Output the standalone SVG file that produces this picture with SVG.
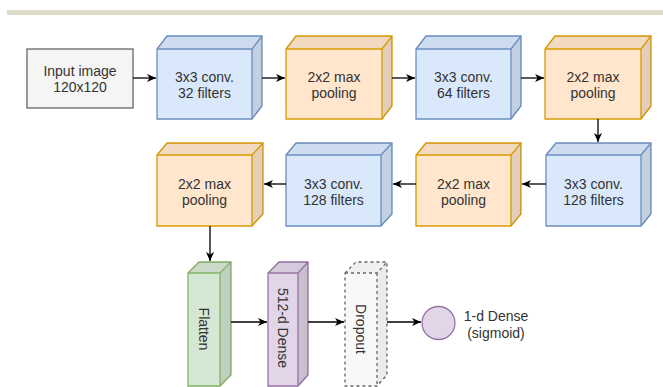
<svg xmlns="http://www.w3.org/2000/svg" width="663" height="387" viewBox="0 0 663 387">
<style>
text{font-family:"Liberation Sans",Arial,sans-serif;font-size:14px;fill:#333;text-anchor:middle}
.blue{fill:#dae8fc;stroke:#6c8ebf;stroke-width:1.3}
.orange{fill:#ffe6cc;stroke:#d79b00;stroke-width:1.3}
.green{fill:#d5e8d4;stroke:#82b366;stroke-width:1.3}
.purple{fill:#e1d5e7;stroke:#9673a6;stroke-width:1.3}
.drop{fill:#f8f8f8;stroke:#666;stroke-width:1.3;stroke-dasharray:3 3}
.top{fill:#000;fill-opacity:0.05;stroke:none}
.side{fill:#000;fill-opacity:0.1;stroke:none}
.conn path{fill:none;stroke:#000;stroke-width:1.3;marker-end:url(#arr)}
</style>
<defs>
<marker id="arr" markerUnits="userSpaceOnUse" markerWidth="10" markerHeight="9" refX="9" refY="4.5" orient="auto">
<path d="M0,0.5 L9,4.5 L0,8.5 L2.5,4.5 z" fill="#000"/>
</marker>
</defs>
<rect x="7" y="10" width="656" height="5" fill="#dfdcc9"/>

<g id="input">
<rect x="27" y="49" width="106" height="59" fill="#f5f5f5" stroke="#666" stroke-width="1.3"/>
<text x="80" y="76">Input image</text>
<text x="80" y="92">120x120</text>
</g>

<g id="conv1">
<path class="blue" d="M157,49 L167,36 L262,36 L262,106 L252,119 L157,119 Z"/>
<path class="top" d="M157,49 L167,36 L262,36 L252,49 Z"/>
<path class="side" d="M252,49 L262,36 L262,106 L252,119 Z"/>
<path class="blue" fill="none" style="fill:none" d="M157,49 L252,49 L262,36 M252,49 L252,119"/>
<text x="204.5" y="82">3x3 conv.</text>
<text x="204.5" y="98">32 filters</text>
</g>

<g id="pool1">
<path class="orange" d="M286,49 L296,36 L392,36 L392,106 L382,119 L286,119 Z"/>
<path class="top" d="M286,49 L296,36 L392,36 L382,49 Z"/>
<path class="side" d="M382,49 L392,36 L392,106 L382,119 Z"/>
<path class="orange" style="fill:none" d="M286,49 L382,49 L392,36 M382,49 L382,119"/>
<text x="334" y="82">2x2 max</text>
<text x="334" y="98">pooling</text>
</g>

<g id="conv2">
<path class="blue" d="M416,49 L426,36 L521,36 L521,106 L511,119 L416,119 Z"/>
<path class="top" d="M416,49 L426,36 L521,36 L511,49 Z"/>
<path class="side" d="M511,49 L521,36 L521,106 L511,119 Z"/>
<path class="blue" style="fill:none" d="M416,49 L511,49 L521,36 M511,49 L511,119"/>
<text x="463.5" y="82">3x3 conv.</text>
<text x="463.5" y="98">64 filters</text>
</g>

<g id="pool2">
<path class="orange" d="M545,49 L555,36 L651,36 L651,106 L641,119 L545,119 Z"/>
<path class="top" d="M545,49 L555,36 L651,36 L641,49 Z"/>
<path class="side" d="M641,49 L651,36 L651,106 L641,119 Z"/>
<path class="orange" style="fill:none" d="M545,49 L641,49 L651,36 M641,49 L641,119"/>
<text x="593" y="82">2x2 max</text>
<text x="593" y="98">pooling</text>
</g>

<g id="conv4">
<path class="blue" d="M546,155 L556,143 L651,143 L651,214 L641,226 L546,226 Z"/>
<path class="top" d="M546,155 L556,143 L651,143 L641,155 Z"/>
<path class="side" d="M641,155 L651,143 L651,214 L641,226 Z"/>
<path class="blue" style="fill:none" d="M546,155 L641,155 L651,143 M641,155 L641,226"/>
<text x="593.5" y="189">3x3 conv.</text>
<text x="593.5" y="205">128 filters</text>
</g>

<g id="pool4">
<path class="orange" d="M416,155 L426,143 L521,143 L521,214 L511,226 L416,226 Z"/>
<path class="top" d="M416,155 L426,143 L521,143 L511,155 Z"/>
<path class="side" d="M511,155 L521,143 L521,214 L511,226 Z"/>
<path class="orange" style="fill:none" d="M416,155 L511,155 L521,143 M511,155 L511,226"/>
<text x="463.5" y="189">2x2 max</text>
<text x="463.5" y="205">pooling</text>
</g>

<g id="conv3">
<path class="blue" d="M286,155 L296,143 L392,143 L392,214 L381,226 L286,226 Z"/>
<path class="top" d="M286,155 L296,143 L392,143 L381,155 Z"/>
<path class="side" d="M381,155 L392,143 L392,214 L381,226 Z"/>
<path class="blue" style="fill:none" d="M286,155 L381,155 L392,143 M381,155 L381,226"/>
<text x="333.5" y="189">3x3 conv.</text>
<text x="333.5" y="205">128 filters</text>
</g>

<g id="pool3">
<path class="orange" d="M157,155 L167,143 L263,143 L263,214 L252,226 L157,226 Z"/>
<path class="top" d="M157,155 L167,143 L263,143 L252,155 Z"/>
<path class="side" d="M252,155 L263,143 L263,214 L252,226 Z"/>
<path class="orange" style="fill:none" d="M157,155 L252,155 L263,143 M252,155 L252,226"/>
<text x="204.5" y="189">2x2 max</text>
<text x="204.5" y="205">pooling</text>
</g>

<g id="flatten">
<path class="green" d="M188,273 L199,262 L231,262 L231,375 L220,386 L188,386 Z"/>
<path class="top" d="M188,273 L199,262 L231,262 L220,273 Z"/>
<path class="side" d="M220,273 L231,262 L231,375 L220,386 Z"/>
<path class="green" style="fill:none" d="M188,273 L220,273 L231,262 M220,273 L220,386"/>
<text transform="translate(204,329) rotate(90)" dy="5">Flatten</text>
</g>

<g id="dense512">
<path class="purple" d="M268,273 L279,262 L308,262 L308,375 L298,386 L268,386 Z"/>
<path class="top" d="M268,273 L279,262 L308,262 L298,273 Z"/>
<path class="side" d="M298,273 L308,262 L308,375 L298,386 Z"/>
<path class="purple" style="fill:none" d="M268,273 L298,273 L308,262 M298,273 L298,386"/>
<text transform="translate(283,328) rotate(90)" dy="5">512-d Dense</text>
</g>

<g id="dropout">
<path class="drop" d="M345,273 L356,262 L387,262 L387,375 L377,386 L345,386 Z"/>
<path class="top" style="fill-opacity:0.03" d="M345,273 L356,262 L387,262 L377,273 Z"/>
<path class="side" style="fill-opacity:0.05" d="M377,273 L387,262 L387,375 L377,386 Z"/>
<path class="drop" style="fill:none" d="M345,273 L377,273 L387,262 M377,273 L377,386"/>
<text transform="translate(361,329) rotate(90)" dy="5">Dropout</text>
</g>

<g id="dense1">
<circle cx="438.5" cy="323" r="16.5" fill="#e1d5e7" stroke="#9673a6" stroke-width="1.3"/>
<text x="496" y="321">1-d Dense</text>
<text x="496" y="338">(sigmoid)</text>
</g>

<g class="conn" id="connectors">
<path d="M133,78 L156,78"/>
<path d="M262,78 L285,78"/>
<path d="M392,78 L415,78"/>
<path d="M521,78 L544,78"/>
<path d="M598,119 L598,142"/>
<path d="M546,184 L522,184"/>
<path d="M416,184 L393,184"/>
<path d="M286,184 L264,184"/>
<path d="M210,226 L210,261"/>
<path d="M231,322 L267,322"/>
<path d="M308,322 L344,322"/>
<path d="M387,322 L421,322"/>
</g>
</svg>
